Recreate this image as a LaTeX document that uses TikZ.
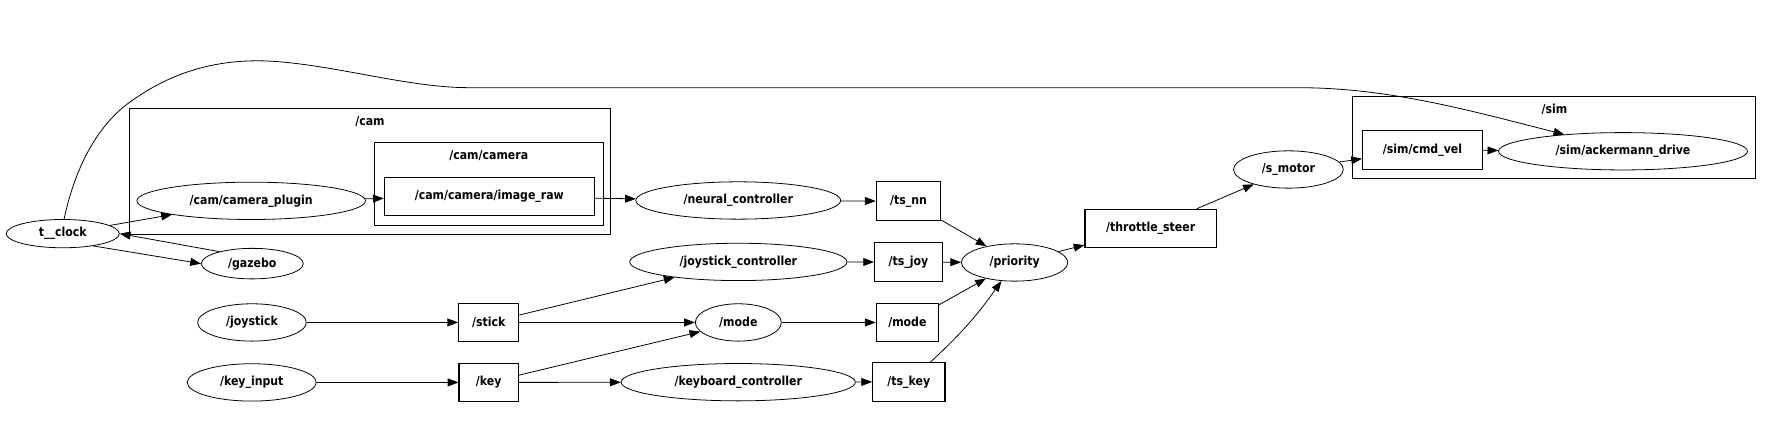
\documentclass[tikz,border=0pt]{standalone}
\usepackage{fontspec}
\setmainfont{DejaVu Sans}[FakeStretch=0.88]
\usetikzlibrary{shapes.geometric,arrows.meta}
\begin{document}
\begin{tikzpicture}[x=1pt,y=-1pt,
  every node/.style={font=\fontsize{11}{13}\selectfont\bfseries, inner sep=0pt},
  nd/.style={ellipse, draw, line width=0.7pt, minimum height=33pt},
  tp/.style={rectangle, draw, line width=1pt, minimum height=34pt},
  cl/.style={draw, line width=0.8pt},
  edge/.style={-{Triangle[length=9.5pt,width=7pt]}, line width=0.7pt},
]
\useasboundingbox (0,0) rectangle (1568,376);
% clusters
\draw[cl] (114,96) rectangle (540,207);
\node (camlbl) at (327,107) {/cam};
\draw[cl] (331,126) rectangle (533,199);
\node (camcamlbl) at (432,137.5) {/cam/camera};
\draw[cl] (1195.5,85) rectangle (1552,158);
\node (simlbl) at (1374,96.5) {/sim};
% ellipse nodes
\node[nd, minimum width=100pt, minimum height=25pt] (tclock) at (55.5,206.5) {t\_\_clock};
\node[nd, minimum width=90pt, minimum height=27pt] (gazebo) at (223,233) {/gazebo};
\node[nd, minimum width=202pt] (plugin) at (222,177.5) {/cam/camera\_plugin};
\node[nd, minimum width=96pt] (joystick) at (222.7,285) {/joystick};
\node[nd, minimum width=114pt] (keyinput) at (222.5,338) {/key\_input};
\node[nd, minimum width=181pt] (neural) at (652.5,177.2) {/neural\_controller};
\node[nd, minimum width=192pt] (joyctl) at (652.6,231.5) {/joystick\_controller};
\node[nd, minimum width=76pt] (modeel) at (652.6,285) {/mode};
\node[nd, minimum width=207pt] (keyctl) at (652.5,337.8) {/keyboard\_controller};
\node[nd, minimum width=94pt] (priority) at (896.8,232) {/priority};
\node[nd, minimum width=97pt] (smotor) at (1138.8,149.8) {/s\_motor};
\node[nd, minimum width=220pt] (acker) at (1434.5,133.7) {/sim/ackermann\_drive};
% topic boxes
\node[tp, minimum width=185.6pt] (imgraw) at (432.5,173.7) {/cam/camera/image\_raw};
\node[tp, minimum width=53pt] (stick) at (432,285) {/stick};
\node[tp, minimum width=52.5pt] (key) at (432,338) {/key};
\node[tp, minimum width=57pt] (tsnn) at (803,177.8) {/ts\_nn};
\node[tp, minimum width=60pt] (tsjoy) at (803,231.6) {/ts\_joy};
\node[tp, minimum width=55pt] (modebox) at (802,285) {/mode};
\node[tp, minimum width=64pt] (tskey) at (803.3,337.5) {/ts\_key};
\node[tp, minimum width=116pt] (throttle) at (1017,202) {/throttle\_steer};
\node[tp, minimum width=106pt] (cmdvel) at (1257.3,132.5) {/sim/cmd\_vel};
% edges
\draw[edge] (tclock) -- (plugin);
\draw[edge] (gazebo.160) -- (tclock.east);
\draw[edge] (tclock.-22) -- (gazebo.west);
\draw[edge] (plugin) -- (imgraw);
\draw[edge] (imgraw) -- (neural);
\draw[edge] (neural) -- (tsnn);
\draw[edge] (tsnn) -- (priority);
\draw[edge] (joyctl) -- (tsjoy);
\draw[edge] (tsjoy) -- (priority);
\draw[edge] (modebox) -- (priority);
\draw[edge] (tskey) to[bend right=6] (priority);
\draw[edge] (priority) -- (throttle);
\draw[edge] (throttle) -- (smotor);
\draw[edge] (smotor) -- (cmdvel);
\draw[edge] (cmdvel) -- (acker);
\draw[edge] (joystick) -- (stick);
\draw[edge] (keyinput) -- (key);
\draw[edge] (stick) -- (joyctl);
\draw[edge] (stick) -- (modeel);
\draw[edge] (key) -- (modeel);
\draw[edge] (key) -- (keyctl);
\draw[edge] (modeel) -- (modebox);
\draw[edge] (keyctl) -- (tskey);
\draw[edge] (tclock.85) .. controls (66,150) and (85,110) .. (118,88)
  .. controls (155,62) and (195,52) .. (238,54)
  .. controls (295,57) and (360,77.5) .. (415,77.5)
  -- (1150,77.5)
  .. controls (1230,78) and (1300,98) .. (acker.164);
\end{tikzpicture}
\end{document}
